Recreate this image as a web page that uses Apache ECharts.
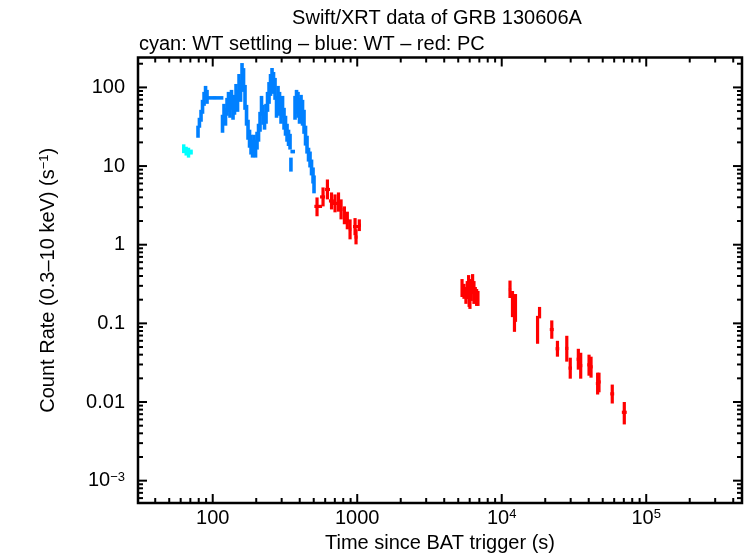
<!DOCTYPE html>
<html><head><meta charset="utf-8">
<script src="https://cdn.jsdelivr.net/npm/echarts@6/dist/echarts.min.js"></script>
<style>html,body{margin:0;padding:0;background:#fff}#c{width:746px;height:558px}</style>
</head><body><div id="c"></div>
<script>
// Each row: [time, timeLow, timeHigh, rate, rateLow, rateHigh]
const wtSettling = [
  [63.0, 61.6, 64.4, 16.6, 14.6, 18.9],
  [65.5, 64.4, 66.6, 15.4, 13.6, 17.6],
  [68.0, 66.6, 69.8, 14.8, 12.8, 17.1],
  [70.8, 69.8, 72.2, 15.0, 14.0, 16.2]
];
const wt = [
  [79.1, 78.2, 80.0, 27.3, 22.9, 32.6],
  [80.9, 80.0, 81.9, 35.5, 30.7, 41.1],
  [83.0, 82.0, 84.0, 44, 36.6, 51.9],
  [85.0, 84.0, 86.0, 57, 46.2, 69.5],
  [87.1, 86.0, 88.2, 72, 58.3, 87.7],
  [89.2, 88.2, 90.2, 86, 69.5, 104.5],
  [91.3, 90.2, 92.4, 76, 61.8, 93],
  [103, 89.9, 118.5, 73.6, 71, 76.5],
  [116.9, 115.6, 118.2, 34.5, 26.5, 44.9],
  [119.7, 118.3, 121.1, 46, 34.5, 61.8],
  [122.6, 121.1, 124.1, 42, 32.6, 55],
  [125.6, 124.1, 127.1, 57, 43.6, 73.6],
  [128.6, 127.1, 130.2, 65, 48.9, 87.7],
  [131.7, 130.2, 133.3, 57, 41.1, 78],
  [134.9, 133.3, 136.5, 70, 51.9, 93],
  [138.2, 136.5, 139.9, 52, 38.8, 69.5],
  [141.5, 139.9, 143.2, 60, 44.9, 80.4],
  [145.0, 143.2, 146.8, 83, 61.8, 110.6],
  [148.5, 146.8, 150.3, 67, 48.9, 93],
  [152.1, 150.3, 154.0, 107, 78, 148],
  [155.8, 154.0, 157.7, 90, 65.5, 124],
  [159.5, 157.7, 161.4, 146, 104.5, 204],
  [163.4, 161.4, 165.4, 124, 87.7, 176],
  [167.3, 165.4, 169.3, 75, 51.9, 107.5],
  [171.4, 169.3, 173.5, 44, 32.6, 60],
  [175.5, 173.5, 177.6, 29, 21.6, 38.8],
  [179.8, 177.6, 182.0, 22.3, 17.1, 29],
  [184.1, 182.0, 186.4, 18.7, 14.0, 25],
  [188.6, 186.4, 190.9, 16.6, 12.8, 21.6],
  [193.1, 190.9, 195.4, 19.5, 15.3, 25],
  [197.8, 195.4, 200.2, 16.6, 12.8, 21.6],
  [202.6, 200.2, 205.0, 21, 16.2, 27.3],
  [207.5, 205.0, 210.0, 26.5, 20.4, 34.5],
  [212.5, 210.0, 215.1, 36.5, 27.3, 48.9],
  [217.6, 215.1, 220.3, 58, 43.6, 78],
  [222.9, 220.3, 225.6, 45, 33.5, 60],
  [228.3, 225.6, 231.0, 37.6, 29, 48.9],
  [233.8, 231.0, 236.6, 46, 34.5, 61.8],
  [239.5, 236.6, 242.4, 65, 48.9, 87.7],
  [245.3, 242.4, 248.2, 85, 61.8, 117],
  [251.2, 248.2, 254.2, 107, 78, 148],
  [257.3, 254.2, 260.4, 128, 93, 176.5],
  [263.5, 260.4, 266.7, 114, 82.8, 157],
  [269.9, 266.7, 273.1, 96, 69.5, 132],
  [276.4, 273.1, 279.7, 57, 41.1, 78],
  [283.1, 279.7, 286.5, 76, 55, 104.5],
  [290.0, 286.5, 293.5, 62, 43.6, 87.7],
  [297.0, 293.5, 300.6, 47.5, 34.5, 65.5],
  [304.2, 300.6, 307.8, 57, 41.1, 78],
  [311.5, 307.8, 315.2, 40, 29, 55],
  [319.0, 315.2, 322.9, 32.5, 24.3, 43.6],
  [326.8, 322.9, 330.7, 26.5, 20.4, 34.5],
  [334.7, 330.7, 338.7, 22.8, 18.0, 29],
  [342.8, 338.7, 347.0, 20.4, 16.2, 25.7],
  [358, 345, 371, 15.3, 14.6, 16.0],
  [347.7, 344, 351.5, 10.4, 8.5, 12.8],
  [371.2, 366.7, 375.7, 55, 38.8, 78],
  [380.2, 375.7, 384.8, 65, 46.2, 93],
  [389.3, 384.8, 394.0, 60, 41.1, 87.7],
  [398.7, 394.0, 403.5, 50, 34.5, 73.6],
  [408.5, 403.5, 413.4, 56, 38.8, 80.4],
  [418.3, 413.4, 423.3, 47.6, 32.6, 69.5],
  [428.4, 423.3, 433.6, 36.5, 25.7, 51.9],
  [438.8, 433.6, 444.1, 24.4, 18.2, 32.6],
  [449.4, 444.1, 454.8, 18.7, 14.4, 24.3],
  [460.3, 454.8, 465.8, 14, 11.4, 17.1],
  [471.4, 465.8, 477.1, 12.1, 9.6, 15.3],
  [482.8, 477.1, 488.6, 9.6, 7.6, 12.1],
  [494.5, 488.6, 498.5, 7.6, 6.0, 9.6],
  [502.3, 498.5, 506.0, 5.8, 4.5, 7.6]
];
const pc = [
  [527, 505, 571, 3.07, 2.30, 3.99],
  [580, 553, 599, 4.05, 3.07, 5.35],
  [622, 599, 648, 5.04, 3.77, 6.75],
  [664, 637, 690, 3.6, 2.81, 4.62],
  [702, 680, 725, 3.35, 2.58, 4.36],
  [742, 725, 760, 3.5, 2.63, 4.62],
  [773, 755, 790, 2.81, 2.10, 3.77],
  [815, 797, 836, 2.36, 1.82, 3.07],
  [854, 836, 875, 2.02, 1.57, 2.63],
  [892, 875, 910, 1.57, 1.17, 2.10],
  [966, 935, 1046, 1.70, 1.32, 2.18],
  [981, 958, 1005, 1.25, 1.01, 1.57],
  [1034, 1013, 1062, 1.77, 1.49, 2.10],
  [5313, 5230, 5400, 0.28, 0.2165, 0.366],
  [5480, 5400, 5560, 0.255, 0.205, 0.318],
  [5653, 5560, 5740, 0.226, 0.177, 0.29],
  [5775, 5720, 5840, 0.266, 0.2042, 0.345],
  [5899, 5840, 5960, 0.31, 0.2295, 0.411],
  [5950, 5900, 6000, 0.21, 0.1618, 0.2734],
  [6026, 5960, 6090, 0.23, 0.1526, 0.316],
  [6155, 6090, 6220, 0.26, 0.1927, 0.366],
  [6288, 6220, 6350, 0.31, 0.236, 0.423],
  [6424, 6350, 6490, 0.25, 0.1766, 0.345],
  [6562, 6490, 6630, 0.24, 0.2042, 0.29],
  [6703, 6630, 6770, 0.215, 0.1666, 0.2734],
  [6847, 6770, 6920, 0.207, 0.1666, 0.258],
  [11410, 11200, 11620, 0.27, 0.21, 0.35],
  [11870, 11650, 12090, 0.177, 0.12, 0.258],
  [12450, 12200, 12700, 0.157, 0.1045, 0.236],
  [12250, 12000, 12500, 0.11, 0.078, 0.1526],
  [17700, 17300, 18000, 0.078, 0.055, 0.1245],
  [18270, 17900, 18600, 0.137, 0.1157, 0.1618],
  [22200, 21500, 22900, 0.0835, 0.0637, 0.109],
  [24300, 23600, 25000, 0.0476, 0.0377, 0.060],
  [28200, 27500, 28900, 0.048, 0.0326, 0.0695],
  [29800, 29000, 30600, 0.027, 0.0198, 0.0366],
  [33900, 33000, 34800, 0.035, 0.0258, 0.0475],
  [35200, 34300, 36100, 0.029, 0.0198, 0.0423],
  [40200, 39100, 41300, 0.0297, 0.0216, 0.040],
  [41500, 40400, 42600, 0.028, 0.0204, 0.0377],
  [46100, 44800, 47400, 0.0172, 0.01245, 0.0236],
  [47100, 45800, 48400, 0.018, 0.0133, 0.0236],
  [58200, 56400, 60000, 0.0127, 0.00957, 0.01666],
  [70500, 67800, 73300, 0.0074, 0.00519, 0.0100]
];
const xTickValues = [100, 1000, 1e4, 1e5];
const xTickLabels = ['100', '1000', '10{s|4}', '10{s|5}'];
const yTickValues = [1e-3, 0.01, 0.1, 1, 10, 100];
const yTickLabels = ['10{s|\u22123}', '0.01', '0.1', '1', '10', '100'];
const xRange = [30.4, 4.6e5];
const yRange = [5.2e-4, 240];
const titleText = 'Swift/XRT data of GRB 130606A';
const subtitleText = 'cyan: WT settling \u2013 blue: WT \u2013 red: PC';
const xName = 'Time since BAT trigger (s)';
const yName = 'Count Rate (0.3\u201310 keV) (s{s|\u22121})';

const FONT = '"Liberation Sans", Arial, sans-serif';

// minor/major tick positions (decoration only)
function buildTicks(range) {
  const out = [];
  const lo = Math.floor(Math.log10(range[0])), hi = Math.ceil(Math.log10(range[1]));
  for (let e = lo; e <= hi; e++) {
    for (let m = 1; m <= 9; m++) {
      const v = m * Math.pow(10, e);
      if (v > range[0] * 1.0001 && v < range[1] / 1.0001) out.push([v, m === 1 ? 1 : 0]);
    }
  }
  return out;
}
const xTicks = buildTicks(xRange).map(d => [d[0], 1, d[1]]);
const yTicks = buildTicks(yRange).map(d => [100, d[0], d[1]]);

function labelFor(values, labels) {
  return function (v) {
    for (let i = 0; i < values.length; i++) {
      if (Math.abs(Math.log10(v) - Math.log10(values[i])) < 1e-6) return labels[i];
    }
    return '';
  };
}

function errSeries(name, data, color, width, z) {
  return {
    type: 'custom', name: name, data: data, z: z, silent: true, animation: false,
    encode: { x: [0, 1, 2], y: [3, 4, 5] },
    renderItem: function (params, api) {
      const t = api.value(0), tlo = api.value(1), thi = api.value(2);
      const r = api.value(3), rlo = api.value(4), rhi = api.value(5);
      const a = api.coord([t, rhi]), b = api.coord([t, rlo]);
      const l = api.coord([tlo, r]), rr = api.coord([thi, r]);
      const st = { stroke: color, lineWidth: width, fill: null };
      return { type: 'group', children: [
        { type: 'line', shape: { x1: a[0], y1: a[1], x2: b[0], y2: b[1] }, style: st },
        { type: 'line', shape: { x1: l[0], y1: l[1], x2: rr[0], y2: rr[1] }, style: st }
      ] };
    }
  };
}

const tickStyle = { stroke: '#000', lineWidth: 2 };
const chart = echarts.init(document.getElementById('c'));
chart.setOption({
  animation: false,
  backgroundColor: '#fff',
  grid: { left: 138, right: 4, top: 57.5, bottom: 53, show: true, borderColor: '#000', borderWidth: 2.5, backgroundColor: 'transparent' },
  graphic: [
    { type: 'text', x: 437, y: 18, style: { text: titleText, font: '20px ' + FONT, fill: '#000', align: 'center', textAlign: 'center', verticalAlign: 'middle', textVerticalAlign: 'middle' } },
    { type: 'text', x: 139, y: 44, style: { text: subtitleText, font: '20px ' + FONT, fill: '#000', align: 'left', textAlign: 'left', verticalAlign: 'middle', textVerticalAlign: 'middle' } }
  ],
  xAxis: {
    type: 'log', logBase: 10, min: xRange[0], max: xRange[1],
    axisLine: { show: false }, axisTick: { show: false }, splitLine: { show: false },
    axisLabel: { formatter: labelFor(xTickValues, xTickLabels), color: '#000', fontSize: 20, fontFamily: FONT, margin: 5,
      rich: { s: { fontSize: 13, fontFamily: FONT, color: '#000', verticalAlign: 'top' } } },
    name: xName, nameLocation: 'middle', nameGap: 30,
    nameTextStyle: { color: '#000', fontSize: 20, fontFamily: FONT }
  },
  yAxis: {
    type: 'log', logBase: 10, min: yRange[0], max: yRange[1],
    axisLine: { show: false }, axisTick: { show: false }, splitLine: { show: false },
    axisLabel: { formatter: labelFor(yTickValues, yTickLabels), color: '#000', fontSize: 20, fontFamily: FONT, margin: 13,
      rich: { s: { fontSize: 13, fontFamily: FONT, color: '#000', verticalAlign: 'top' } } },
    name: yName, nameLocation: 'middle', nameGap: 80,
    nameTextStyle: { color: '#000', fontSize: 20, fontFamily: FONT,
      rich: { s: { fontSize: 13, fontFamily: FONT, color: '#000', verticalAlign: 'top' } } }
  },
  series: [
    errSeries('WT', wt, '#0080ff', 3.6, 2),
    errSeries('WT settling', wtSettling, '#00ffff', 3.4, 3),
    errSeries('PC', pc, '#ff0000', 3.2, 4),
    {
      type: 'custom', name: 'xticks', data: xTicks, z: 10, silent: true, animation: false,
      encode: { x: 0, y: 1 },
      renderItem: function (params, api) {
        const p = api.coord([api.value(0), 1]);
        const cs = params.coordSys;
        const len = api.value(2) ? 9 : 5;
        const top = cs.y, bot = cs.y + cs.height;
        return { type: 'group', children: [
          { type: 'line', shape: { x1: p[0], y1: bot, x2: p[0], y2: bot - len }, style: tickStyle },
          { type: 'line', shape: { x1: p[0], y1: top, x2: p[0], y2: top + len }, style: tickStyle }
        ] };
      }
    },
    {
      type: 'custom', name: 'yticks', data: yTicks, z: 10, silent: true, animation: false,
      encode: { x: 0, y: 1 },
      renderItem: function (params, api) {
        const p = api.coord([100, api.value(1)]);
        const cs = params.coordSys;
        const len = api.value(2) ? 9 : 5;
        const left = cs.x, right = cs.x + cs.width;
        return { type: 'group', children: [
          { type: 'line', shape: { x1: left, y1: p[1], x2: left + len, y2: p[1] }, style: tickStyle },
          { type: 'line', shape: { x1: right, y1: p[1], x2: right - len, y2: p[1] }, style: tickStyle }
        ] };
      }
    }
  ]
});
</script>
</body></html>
